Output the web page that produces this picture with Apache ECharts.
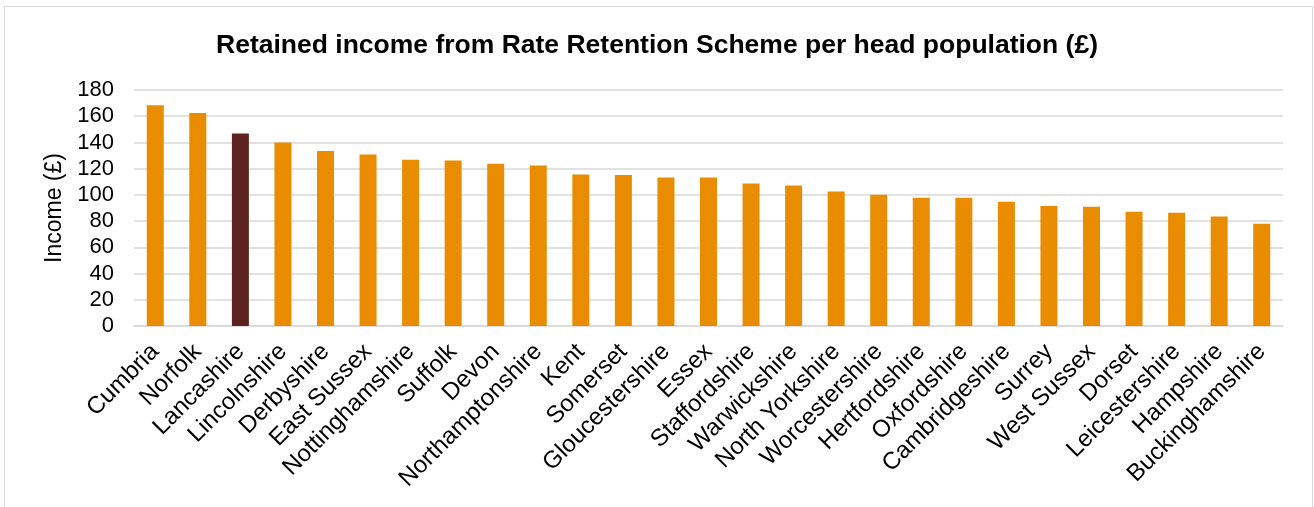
<!DOCTYPE html>
<html>
<head>
<meta charset="utf-8">
<script src="https://cdn.jsdelivr.net/npm/echarts@6/dist/echarts.min.js"></script>
<style>
  html, body { margin: 0; padding: 0; background: #fff; }
  #frame { position: absolute; left: 4px; top: 6px; width: 1309px; height: 501px; border: 1px solid #d9d9d9; border-bottom: none; box-sizing: border-box; }
  #main { position: absolute; left: 0; top: 0; width: 1314px; height: 507px; }
</style>
</head>
<body>
<div id="frame"></div>
<div id="main"></div>
<script>
// counties, sorted by income per head
var counties = ['Cumbria', 'Norfolk', 'Lancashire', 'Lincolnshire', 'Derbyshire', 'East Sussex',
  'Nottinghamshire', 'Suffolk', 'Devon', 'Northamptonshire', 'Kent', 'Somerset', 'Gloucestershire',
  'Essex', 'Staffordshire', 'Warwickshire', 'North Yorkshire', 'Worcestershire', 'Hertfordshire',
  'Oxfordshire', 'Cambridgeshire', 'Surrey', 'West Sussex', 'Dorset', 'Leicestershire',
  'Hampshire', 'Buckinghamshire'];
var income = [168.3, 162.4, 146.9, 140.0, 133.4, 130.9, 126.8, 126.3, 123.7, 122.5, 115.6, 115.1,
  113.3, 113.3, 108.7, 107.2, 102.6, 100.1, 97.8, 97.8, 94.7, 91.6, 90.9, 87.1, 86.3, 83.5, 77.9];
var highlight = 'Lancashire';

var myChart = echarts.init(document.getElementById('main'));

var option = {
  title: {
    text: 'Retained income from Rate Retention Scheme per head population (£)',
    left: 'center',
    top: 27,
    textStyle: { fontFamily: 'Liberation Sans, Arial', fontSize: 26.5, fontWeight: 'bold', color: '#000' }
  },
  grid: { left: 134, right: 31, top: 90, bottom: 181 },
  xAxis: {
    type: 'category',
    data: counties,
    axisTick: { show: false },
    axisLine: { lineStyle: { color: '#d9d9d9', width: 1.5 } },
    axisLabel: {
      rotate: 45, interval: 0, margin: 22,
      fontFamily: 'Liberation Sans, Arial', fontSize: 24, color: '#000'
    }
  },
  yAxis: {
    type: 'value',
    min: 0, max: 180, interval: 20,
    name: 'Income (£)',
    nameLocation: 'middle',
    nameGap: 67,
    nameTextStyle: { fontFamily: 'Liberation Sans, Arial', fontSize: 23, color: '#000' },
    axisLabel: { fontFamily: 'Liberation Sans, Arial', fontSize: 22, color: '#000', margin: 20 },
    splitLine: { lineStyle: { color: '#d9d9d9', width: 1.5 } }
  },
  series: [{
    type: 'bar',
    barWidth: 17,
    data: income.map(function (v, i) {
      return {
        value: v,
        itemStyle: { color: counties[i] === highlight ? '#5C2320' : '#EA8C00' }
      };
    })
  }]
};
myChart.setOption(option);
</script>
</body>
</html>
